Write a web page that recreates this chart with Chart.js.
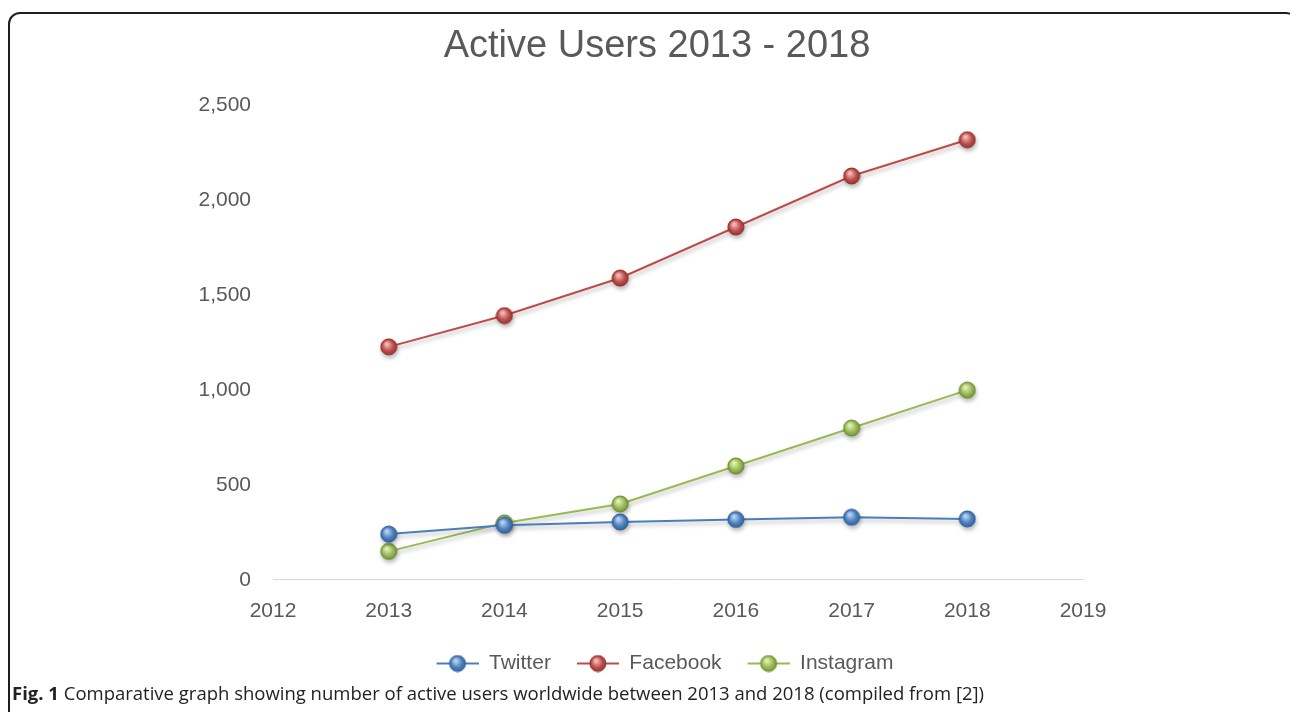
<!DOCTYPE html>
<html>
<head>
<meta charset="utf-8">
<script src="https://cdn.jsdelivr.net/npm/chart.js@4.4.0/dist/chart.umd.min.js"></script>
<style>
  body { margin: 0; background: #fff; width: 1290px; height: 712px; overflow: hidden; position: relative; }
  #frame { position: absolute; left: 8px; top: 12px; width: 1290px; height: 760px; border: 2px solid #1e1e1e; border-radius: 12px; box-sizing: border-box; }
  #wrap { position: absolute; left: 12px; top: 0; width: 1290px; height: 684px; }
  #caption { position: absolute; left: 12px; top: 680px; font-family: "Open Sans", sans-serif; font-size: 18.5px; color: #222; white-space: nowrap; }
</style>
</head>
<body>
<div id="frame"></div>
<div id="wrap"><canvas id="usersChart"></canvas></div>
<div id="caption"><b>Fig. 1</b> Comparative graph showing number of active users worldwide between 2013 and 2018 (compiled from [2])</div>
<script>
// data (millions of users)
const years = [2013, 2014, 2015, 2016, 2017, 2018];
const twitter = [241, 288, 305, 318, 330, 321];
const facebook = [1228, 1393, 1591, 1860, 2129, 2320];
const instagram = [150, 300, 400, 600, 800, 1000];

const textGrey = '#595959';

// little shaded ball used for the markers
function sphere(base, dark, light) {
    const c = document.createElement('canvas');
    c.width = 18; c.height = 18;
    const g = c.getContext('2d');
    const grad = g.createRadialGradient(7, 6, 1, 9, 9, 9);
    grad.addColorStop(0, light);
    grad.addColorStop(0.55, base);
    grad.addColorStop(1, dark);
    g.beginPath();
    g.arc(9, 9, 8, 0, Math.PI * 2);
    g.fillStyle = grad;
    g.fill();
    g.lineWidth = 1;
    g.strokeStyle = dark;
    g.stroke();
    return c;
}

// legend symbol: short line through a ball (blank strip on the left = gap between items)
function legendIcon(line, ball) {
    const c = document.createElement('canvas');
    c.width = 58; c.height = 18;
    const g = c.getContext('2d');
    g.strokeStyle = line;
    g.lineWidth = 2;
    g.beginPath();
    g.moveTo(16, 9); g.lineTo(58, 9);
    g.stroke();
    g.drawImage(ball, 28, 0);
    return c;
}

const series = [
    { label: 'Twitter', values: twitter, line: '#4a7ebb', ball: sphere('#4f81bd', '#2c5d98', '#b8d3f2') },
    { label: 'Facebook', values: facebook, line: '#be4b48', ball: sphere('#c0504d', '#8c2f2c', '#f2bcbb') },
    { label: 'Instagram', values: instagram, line: '#98b954', ball: sphere('#9bbb59', '#6b8a2e', '#e0f0b8') },
];

const shadowPlugin = {
    id: 'shadow',
    beforeDatasetsDraw(chart) {
        const ctx = chart.ctx;
        ctx.save();
        ctx.shadowColor = 'rgba(0,0,0,0.28)';
        ctx.shadowBlur = 4;
        ctx.shadowOffsetX = 1;
        ctx.shadowOffsetY = 3;
    },
    afterDatasetsDraw(chart) {
        chart.ctx.restore();
    }
};

const ctx = document.getElementById('usersChart').getContext('2d');
const chart = new Chart(ctx, {
    type: 'line',
    data: {
        datasets: series.map(s => ({
            label: s.label,
            data: years.map((y, i) => ({ x: y, y: s.values[i] })),
            borderColor: s.line,
            backgroundColor: s.line,
            borderWidth: 2,
            tension: 0,
            pointStyle: s.ball,
            legendIcon: legendIcon(s.line, s.ball),
            fill: false,
        }))
    },
    options: {
        responsive: true,
        maintainAspectRatio: false,
        animation: false,
        layout: { padding: 0 },
        scales: {
            x: {
                type: 'linear',
                min: 2012,
                max: 2019,
                grid: { display: false, drawTicks: false },
                border: { display: true, color: '#d9d9d9', width: 1 },
                ticks: {
                    stepSize: 1,
                    padding: 19,
                    color: textGrey,
                    font: { family: 'Liberation Sans, Arial', size: 21 },
                    callback: v => String(v),
                },
            },
            y: {
                min: 0,
                max: 2500,
                grid: { display: false, drawTicks: false },
                border: { display: false },
                ticks: {
                    stepSize: 500,
                    padding: 22,
                    color: textGrey,
                    font: { family: 'Liberation Sans, Arial', size: 21 },
                },
                afterFit(scale) { scale.width = 261; },
            },
            // empty axis on the right, only keeps the plot where it sits in the figure
            spacer: {
                position: 'right',
                grid: { display: false, drawTicks: false },
                border: { display: false },
                ticks: { display: false },
                afterFit(scale) { scale.width = 219; },
            },
        },
        plugins: {
            title: {
                display: true,
                text: 'Active Users 2013 - 2018',
                color: '#595959',
                font: { family: 'Liberation Sans, Arial', size: 38, weight: 'normal' },
                padding: { top: 24, bottom: 36 },
            },
            legend: {
                position: 'bottom',
                labels: {
                    color: textGrey,
                    font: { family: 'Liberation Sans, Arial', size: 21 },
                    usePointStyle: true,
                    pointStyleWidth: 58,
                    padding: 10,
                    generateLabels(chart) {
                        return chart.data.datasets.map((d, i) => ({
                            text: d.label,
                            fontColor: textGrey,
                            pointStyle: d.legendIcon,
                            datasetIndex: i,
                            hidden: false,
                            lineWidth: 0,
                        }));
                    },
                },
            },
            tooltip: { enabled: false },
        },
    },
    plugins: [shadowPlugin],
});
</script>
</body>
</html>
